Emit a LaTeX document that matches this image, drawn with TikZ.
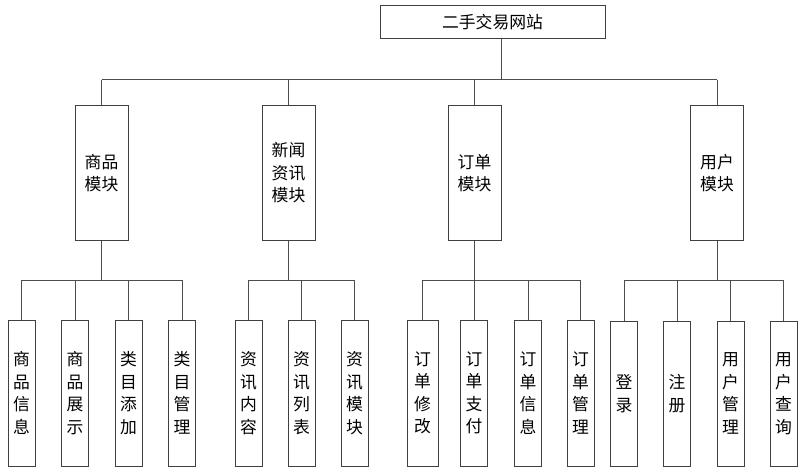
\documentclass[tikz,border=0pt]{standalone}
\usepackage{fontspec}
\newfontfamily\cjk{Noto Sans CJK SC}
\begin{document}
\begin{tikzpicture}[x=1pt,y=1pt,
  box/.style={draw=black!75, line width=1pt, fill=white, inner sep=0pt, align=center,
    font=\cjk\fontsize{16.8}{22.5}\selectfont},
  topbox/.style={box, minimum width=225pt, minimum height=33pt},
  midbox/.style={box, minimum width=53pt, minimum height=134pt},
  leaf/.style={box, minimum width=27pt, minimum height=146pt},
  conn/.style={draw=black!70, line width=1pt}]
\useasboundingbox (0,0) rectangle (808,-476);
\fill[white] (0,0) rectangle (808,-476);
% level 1
\node[topbox] (top) at (492.5,-22.5) {二手交易网站};
% level 2
\node[midbox] (m1) at (101.5,-173) {商品\\模块};
\node[midbox] (m2) at (288.5,-173) {新闻\\资讯\\模块};
\node[midbox] (m3) at (474.5,-173) {订单\\模块};
\node[midbox] (m4) at (717,-173) {用户\\模块};
% level 3
\node[leaf] (a1) at (21.5,-393) {商\\品\\信\\息};
\node[leaf] (a2) at (75,-393) {商\\品\\展\\示};
\node[leaf] (a3) at (128.5,-393) {类\\目\\添\\加};
\node[leaf] (a4) at (182,-393) {类\\目\\管\\理};
\node[leaf] (b1) at (248.5,-393) {资\\讯\\内\\容};
\node[leaf] (b2) at (301.5,-393) {资\\讯\\列\\表};
\node[leaf] (b3) at (354.5,-393) {资\\讯\\模\\块};
\node[leaf, minimum width=31pt] (c1) at (422.5,-393) {订\\单\\修\\改};
\node[leaf] (c2) at (474,-393) {订\\单\\支\\付};
\node[leaf] (c3) at (528,-393) {订\\单\\信\\息};
\node[leaf] (c4) at (580.5,-393) {订\\单\\管\\理};
\node[leaf, minimum height=145pt] (d1) at (624,-393.5) {登\\录};
\node[leaf, minimum height=145pt] (d2) at (677,-393.5) {注\\册};
\node[leaf, minimum height=145pt] (d3) at (730.5,-393.5) {用\\户\\管\\理};
\node[leaf, minimum height=145pt] (d4) at (783.5,-393.5) {用\\户\\查\\询};
% junction coordinates
\coordinate (j0) at (501,-80);
\coordinate (ja) at (0,-280);
% level 1 -> level 2
\draw[conn] (top.south -| j0) -- (j0);
\draw[conn] (m1.north |- j0) -- (m4.north |- j0);
\foreach \m in {m1,m2,m3,m4} \draw[conn] (\m.north |- j0) -- (\m.north);
% level 2 -> level 3
\draw[conn] (m1.south) -- (m1.south |- ja);
\draw[conn] (a1.north |- ja) -- (a4.north |- ja);
\foreach \n in {a1,a2,a3,a4} \draw[conn] (\n.north |- ja) -- (\n.north);
\draw[conn] (m2.south) -- (m2.south |- ja);
\draw[conn] (b1.north |- ja) -- (b3.north |- ja);
\foreach \n in {b1,b2,b3} \draw[conn] (\n.north |- ja) -- (\n.north);
\draw[conn] (m3.south) -- (m3.south |- ja);
\draw[conn] (c1.north |- ja) -- (c4.north |- ja);
\foreach \n in {c1,c2,c3,c4} \draw[conn] (\n.north |- ja) -- (\n.north);
\draw[conn] (m4.south) -- (m4.south |- ja);
\draw[conn] (d1.north |- ja) -- (d4.north |- ja);
\foreach \n in {d1,d2,d3,d4} \draw[conn] (\n.north |- ja) -- (\n.north);
\end{tikzpicture}
\end{document}
